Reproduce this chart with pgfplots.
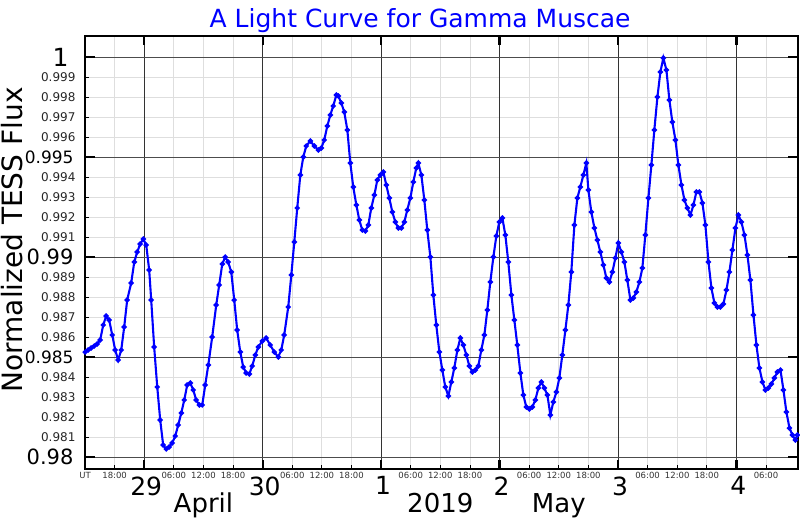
\documentclass[border=0pt]{standalone}
\usepackage{pgfplots}
\pgfplotsset{compat=1.18}
\usepackage{pgfplotstable}
\usepackage{fontspec}
\setmainfont{DejaVu Sans}

% day = days since 2019-04-28 00:00 UT
\pgfplotstableread{
day flux
0.502 0.98525
0.527 0.98535
0.552 0.98545
0.578 0.98555
0.603 0.98565
0.628 0.98585
0.654 0.98660
0.679 0.98705
0.704 0.98685
0.730 0.98610
0.755 0.98535
0.780 0.98485
0.806 0.98535
0.831 0.98650
0.856 0.98785
0.890 0.98870
0.916 0.98975
0.941 0.99025
0.966 0.99065
0.992 0.99090
1.017 0.99060
1.042 0.98935
1.059 0.98785
1.084 0.98550
1.110 0.98350
1.135 0.98185
1.160 0.98060
1.186 0.98040
1.211 0.98050
1.236 0.98070
1.262 0.98105
1.287 0.98160
1.313 0.98220
1.338 0.98285
1.363 0.98360
1.389 0.98370
1.414 0.98335
1.439 0.98285
1.465 0.98260
1.490 0.98260
1.515 0.98360
1.541 0.98460
1.574 0.98600
1.608 0.98760
1.633 0.98860
1.659 0.98965
1.684 0.99000
1.709 0.98975
1.735 0.98925
1.760 0.98785
1.785 0.98635
1.811 0.98525
1.836 0.98450
1.861 0.98420
1.887 0.98415
1.912 0.98455
1.938 0.98510
1.963 0.98550
1.997 0.98580
2.030 0.98595
2.064 0.98560
2.098 0.98525
2.132 0.98500
2.157 0.98535
2.182 0.98610
2.216 0.98750
2.242 0.98910
2.267 0.99075
2.292 0.99245
2.318 0.99410
2.343 0.99500
2.368 0.99555
2.402 0.99580
2.436 0.99555
2.470 0.99535
2.495 0.99545
2.520 0.99585
2.546 0.99655
2.571 0.99710
2.596 0.99755
2.622 0.99810
2.639 0.99805
2.664 0.99770
2.689 0.99725
2.715 0.99635
2.740 0.99470
2.765 0.99350
2.791 0.99260
2.816 0.99185
2.841 0.99135
2.867 0.99130
2.892 0.99160
2.917 0.99245
2.943 0.99310
2.968 0.99385
2.993 0.99410
3.019 0.99425
3.044 0.99360
3.069 0.99295
3.095 0.99225
3.120 0.99175
3.145 0.99145
3.171 0.99145
3.196 0.99175
3.221 0.99235
3.247 0.99295
3.272 0.99375
3.297 0.99445
3.314 0.99470
3.340 0.99410
3.365 0.99285
3.390 0.99135
3.416 0.99000
3.441 0.98810
3.466 0.98660
3.492 0.98525
3.517 0.98435
3.542 0.98350
3.568 0.98305
3.593 0.98375
3.618 0.98445
3.644 0.98535
3.669 0.98595
3.694 0.98560
3.720 0.98510
3.745 0.98455
3.770 0.98425
3.796 0.98435
3.821 0.98455
3.846 0.98535
3.872 0.98610
3.897 0.98735
3.922 0.98875
3.948 0.99000
3.973 0.99105
3.998 0.99175
4.024 0.99195
4.049 0.99110
4.074 0.98975
4.100 0.98810
4.125 0.98685
4.150 0.98560
4.176 0.98420
4.201 0.98310
4.226 0.98250
4.252 0.98240
4.277 0.98250
4.302 0.98285
4.328 0.98345
4.353 0.98375
4.378 0.98345
4.404 0.98310
4.429 0.98210
4.454 0.98275
4.480 0.98325
4.505 0.98395
4.530 0.98510
4.556 0.98635
4.581 0.98760
4.606 0.98925
4.632 0.99160
4.657 0.99295
4.682 0.99350
4.708 0.99410
4.733 0.99470
4.750 0.99335
4.775 0.99225
4.801 0.99145
4.826 0.99085
4.851 0.99025
4.877 0.98960
4.902 0.98895
4.927 0.98875
4.953 0.98925
4.978 0.98995
5.003 0.99070
5.029 0.99025
5.054 0.98975
5.079 0.98885
5.105 0.98785
5.130 0.98795
5.155 0.98825
5.181 0.98875
5.206 0.98945
5.231 0.99110
5.257 0.99295
5.282 0.99460
5.307 0.99635
5.333 0.99800
5.358 0.99925
5.383 0.99995
5.409 0.99935
5.434 0.99785
5.459 0.99675
5.485 0.99585
5.510 0.99460
5.536 0.99360
5.561 0.99285
5.586 0.99245
5.612 0.99210
5.637 0.99260
5.662 0.99325
5.688 0.99325
5.713 0.99270
5.738 0.99160
5.764 0.98975
5.789 0.98845
5.814 0.98770
5.840 0.98750
5.865 0.98750
5.890 0.98765
5.916 0.98835
5.941 0.98925
5.966 0.99035
5.992 0.99145
6.017 0.99210
6.042 0.99175
6.068 0.99110
6.093 0.99010
6.118 0.98885
6.144 0.98710
6.169 0.98560
6.194 0.98445
6.220 0.98375
6.245 0.98335
6.270 0.98345
6.296 0.98365
6.321 0.98395
6.346 0.98425
6.372 0.98435
6.397 0.98335
6.422 0.98225
6.448 0.98145
6.473 0.98110
6.498 0.98085
6.515 0.98110
}\fluxdata

\begin{document}
\begin{tikzpicture}
\useasboundingbox (-85pt,-51pt) rectangle (715pt,469pt);
\begin{axis}[
    at={(0,0)}, anchor=south west,
    scale only axis, width=713pt, height=433pt,
    xmin=0.5, xmax=6.52, ymin=0.9794, ymax=1.00105,
    clip=false,
    axis line style={line width=2.4pt},
    tick align=inside,
    xtick pos=left, ytick pos=left,
    major tick length=4pt,
    tick style={line width=0.8pt, black},
    grid=major,
    major grid style={black!13, line width=0.8pt},
    xtick={0.5,0.75,1.25,1.5,1.75,2.25,2.5,2.75,3.25,3.5,3.75,4.25,4.5,4.75,5.25,5.5,5.75,6.25},
    xticklabels={UT,18:00,06:00,12:00,18:00,06:00,12:00,18:00,06:00,12:00,18:00,06:00,12:00,18:00,06:00,12:00,18:00,06:00},
    ytick={0.981,0.982,0.983,0.984,0.986,0.987,0.988,0.989,0.991,0.992,0.993,0.994,0.996,0.997,0.998,0.999},
    yticklabels={0.981,0.982,0.983,0.984,0.986,0.987,0.988,0.989,0.991,0.992,0.993,0.994,0.996,0.997,0.998,0.999},
    xticklabel style={font=\fontsize{8.5}{9}\selectfont, text=black!80},
    yticklabel style={font=\fontsize{12}{12}\selectfont, text=black!85, xshift=-6pt},
    extra x ticks={1,2,3,4,5,6},
    extra x tick labels={29,30,1,2,3,4},
    extra x tick style={grid=major, major grid style={black!80, line width=0.9pt},
        major tick length=9pt, tick style={line width=2.2pt, black}, xtick pos=both,
        xticklabel style={font=\fontsize{25}{25}\selectfont, text=black, yshift=-4pt, xshift=2pt}},
    extra y ticks={0.98,0.985,0.99,0.995,1},
    extra y tick labels={{\fontsize{21}{21}\selectfont 0.98},{\fontsize{17}{17}\selectfont 0.985},{\fontsize{21}{21}\selectfont 0.99},{\fontsize{17}{17}\selectfont 0.995},{\fontsize{25}{25}\selectfont 1\kern5pt}},
    extra y tick style={grid=major, major grid style={black!70, line width=0.9pt},
        major tick length=10pt, tick style={line width=2.2pt, black}, ytick pos=both,
        yticklabel style={text=black, xshift=-2pt}},
]
\addplot[blue, line width=2.1pt, mark=*, mark size=1.5pt, mark options={draw=blue, fill=blue}]
    table[x=day, y=flux]{\fluxdata};

\node[anchor=base, font=\fontsize{25}{25}\selectfont, text=blue, yshift=8pt]
    at (rel axis cs:0.47,1) {A Light Curve for Gamma Muscae};
\node[rotate=90, anchor=center, font=\fontsize{28}{28}\selectfont]
    at ([xshift=-73pt]rel axis cs:0,0.529) {Normalized TESS Flux};
\node[anchor=base, font=\fontsize{26}{26}\selectfont] at ([yshift=-43pt]axis cs:1.5,0.9794) {April};
\node[anchor=base, font=\fontsize{26}{26}\selectfont] at ([yshift=-43pt]axis cs:3.5,0.9794) {2019};
\node[anchor=base, font=\fontsize{26}{26}\selectfont] at ([yshift=-43pt]axis cs:4.5,0.9794) {May};
\end{axis}
\end{tikzpicture}
\end{document}
